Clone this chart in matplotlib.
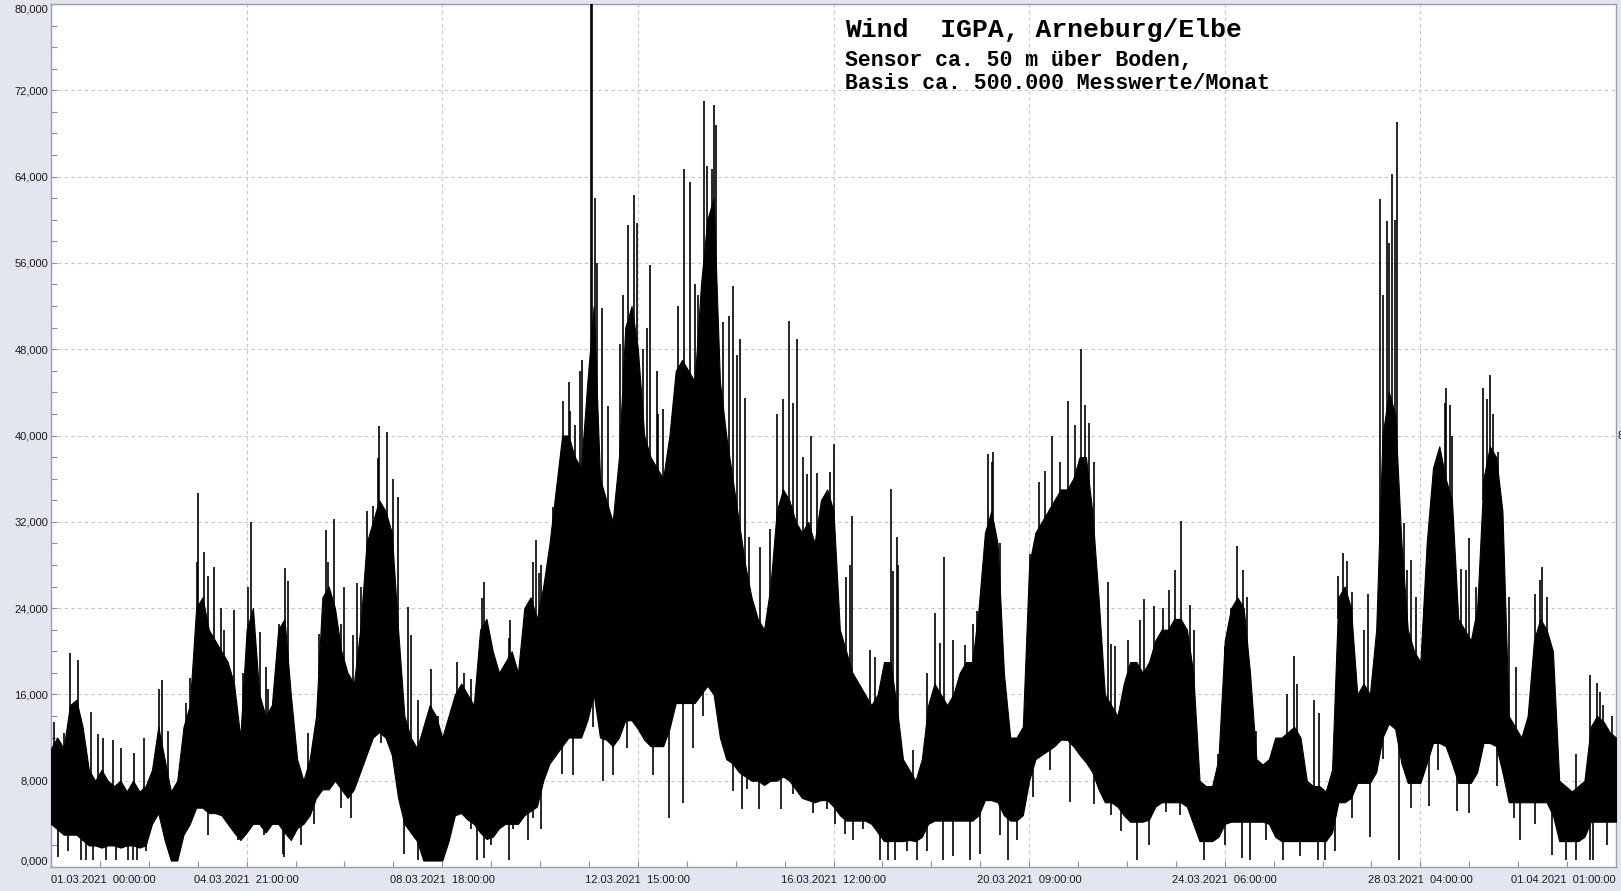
import numpy as np
import matplotlib.pyplot as plt
from matplotlib.ticker import MultipleLocator

W, H = 1621, 891
BG = "#e3e6ee"
plt.rc("font", family=["Liberation Sans", "DejaVu Sans"], size=8)

# sampling grid: every 3 hours from 01.03.2021 00:00 (hours)
hours = np.arange(0, 745, 3)

# top of the dense band (thousands)
upper = np.array([
    11, 12, 11, 15, 15.5, 13, 9, 8, 9, 8,
    7.5, 8, 7, 8, 7, 7.5, 9, 13, 10, 7,
    8, 13, 15, 24, 25, 22, 21, 20, 19, 17,
    12, 22, 24, 16, 14, 15, 22, 23, 16, 10,
    8, 10, 14, 25, 26, 24, 20, 18, 17, 22,
    30, 32, 34, 33, 31, 22, 14, 12, 11, 13,
    15, 14, 12, 14, 16, 17, 16, 15, 22, 23,
    20, 18, 19, 20, 18, 24, 25, 23, 26, 30,
    35, 40, 40, 38, 37, 45, 52, 36, 34, 32,
    38, 50, 52, 48, 40, 38, 37, 36, 40, 46,
    47, 46, 45, 54, 60, 62, 45, 40, 36, 32,
    28, 25, 23, 22, 26, 33, 35, 34, 32, 31,
    32, 30, 34, 35, 33, 22, 20, 18, 17, 16,
    15, 16, 19, 19, 15, 10, 9, 8, 10, 15,
    17, 16, 15, 16, 18, 19, 19, 24, 31, 33,
    30, 18, 12, 12, 13, 28, 31, 32, 33, 34,
    35, 35, 36, 38, 38, 33, 25, 16, 15, 14,
    17, 19, 19, 18, 19, 21, 22, 22, 23, 23,
    22, 18, 8, 7.5, 7.5, 10, 21, 24, 25, 24,
    18, 10, 9.5, 10, 12, 12, 12.5, 13, 12, 8,
    7.5, 7.5, 7, 9, 25, 26, 24, 16, 17, 16,
    22, 40, 44, 42, 30, 22, 20, 19, 30, 37,
    39, 36, 34, 23, 22, 21, 24, 36, 39, 38,
    33, 14, 13, 12, 14, 21, 23, 22, 20, 8,
    7.5, 7, 7.5, 8, 13, 14, 13.5, 12.5, 12,
])

# bottom of the dense band (thousands)
lower = np.array([
    4, 3.5, 3, 3, 3, 2.5, 2, 2, 1.8, 2,
    2, 1.8, 2, 2, 1.8, 2, 4, 5, 2.5, 0.6,
    0.6, 3, 4, 5.5, 5.5, 5, 5, 4.8, 4, 3.2,
    2.5, 3.2, 4, 4, 3.2, 4, 4, 3.2, 2.5, 3.6,
    4, 4.8, 6.4, 7.2, 7.2, 8, 7.2, 6.4, 7.2, 8.8,
    10.4, 12, 12.5, 12, 10.4, 6.4, 4, 3.2, 2.4, 0.6,
    0.6, 0.6, 0.6, 2.4, 4.8, 5, 4.4, 4, 3.2, 2.6,
    2.8, 3.6, 4, 4, 4, 4.8, 5.2, 5.6, 8, 9.6,
    10.4, 11.2, 12, 12, 12, 13.6, 16, 12, 11.8, 11.2,
    12, 13.6, 13.6, 12.8, 11.8, 11.2, 11.2, 11.2, 12.8, 15.2,
    15.2, 15.2, 15.2, 16, 16.8, 16, 12, 10, 9.6, 8.8,
    8.4, 8, 8, 7.6, 8, 8, 8.4, 8, 7.2, 6.4,
    6.2, 6, 6.2, 6.2, 5.6, 4.8, 4.3, 4.3, 4.3, 4.3,
    4, 3.2, 2.4, 2.4, 2.4, 2.4, 2.5, 2.4, 2.8, 4,
    4.3, 4.3, 4.3, 4.3, 4.3, 4.3, 4.3, 4.8, 6.2, 6.2,
    6, 4.8, 4.3, 4.3, 4.8, 8, 10, 10.4, 10.8, 11.2,
    11.8, 11.8, 11.2, 10.4, 9.7, 8.8, 7.2, 6, 6, 5.6,
    4.8, 4.2, 4.2, 4.2, 4.4, 5.6, 6, 6, 6, 6,
    5.6, 4, 2.4, 2.4, 2.4, 2.8, 4, 4.2, 4.2, 4.2,
    4.2, 4.2, 4.2, 4, 2.8, 2.4, 2.4, 2.4, 2.4, 2.4,
    2.4, 2.4, 2.4, 3.2, 6, 6, 6.4, 7.8, 7.8, 7.8,
    8.8, 12, 13.3, 12.8, 9.6, 7.8, 7.8, 7.8, 9.6, 11.5,
    11.5, 11.2, 9.6, 7.8, 7.8, 7.8, 8.8, 11.5, 11.5, 11.2,
    8.8, 6, 6, 6, 6, 6, 6, 6, 4.8, 2.4,
    2.4, 2.4, 2.4, 2.8, 4.2, 4.2, 4.2, 4.2, 4.2,
])

# single gusts above the band (hour, thousands)
spike_hours = [
    1.6, 9.2, 13, 19, 24.6, 33.3, 52.8, 66.3, 69.3, 69.7, 72.9, 77.7, 80.8,
    87.2, 93.5, 95.3, 99.5, 102.2, 111.4, 112.5, 130.8, 131.6, 134.4, 139.5,
    145.3, 150.3, 155.3, 156.1, 159.8, 164.8, 169.6, 171.2, 180.7, 193,
    196.5, 204.8, 205.7, 217.9, 218.4, 229, 230.6, 231.9, 238.5, 242.5,
    246.5, 246.4, 251.5, 252.6, 256.6, 257.4, 258.6, 259.4, 261.8, 265,
    274.5, 277.2, 278.8, 284.9, 288, 288.7, 301.1, 303.8, 306.2, 310.6,
    315.4, 316.2, 322.5, 324.4, 327.7, 332, 341.8, 347.9, 351, 354.5,
    359.3, 361.2, 372, 378, 381, 389.4, 399.5, 400.5, 402.8, 410, 422.7,
    424.7, 434.5, 440, 445.6, 448, 469.7, 475.7, 483.7, 489.5, 491.7,
    493.3, 502.3, 503.9, 517.8, 519.8, 531.4, 537.3, 541.3, 554.7, 563.7,
    566.5, 573, 590.9, 603, 614.1, 616.1, 625.9, 631.6, 634.9, 636, 637.4,
    640, 643.4, 646.7, 662.7, 663.4, 665.2, 670.4, 673.9, 681, 682.9,
    684.3, 693, 708, 708.9, 731.5, 734.8, 736.4,
    6.3, 16.6, 22.2, 29.3, 39.6, 44.4, 51.5, 55.5, 64.2, 74.5, 82.4, 91.1,
    103, 108.6, 122, 127.6, 137.9, 143.4, 147.4, 153, 162.5, 174.4, 183.9,
    199.7, 212.4, 222, 224.8, 233, 236.2,
    243.6, 249.1, 270.5, 272.1, 281.6, 283.2, 291.1, 298.3, 307.8, 311.7,
    314.1, 319.7, 326, 330, 337.1, 345, 352.9, 357.7, 364, 370.4, 379.9,
    391.8, 402, 416.3, 420.3, 429, 438.5, 447.2, 451.2, 465.4, 472.6,
    479.7, 486.8,
    495.7, 505.6, 512.1, 524.4, 528.5, 534.2, 543.2, 558, 561.2, 568.6,
    587.4, 592.3, 600.5, 612, 618.5, 624.3, 633.3, 639, 644.7, 648.8,
    652.9, 659.4, 666, 672.5, 677.5, 685.6, 688.1, 696.3, 705.3, 711, 725,
    738, 742.1,
]
spike_vals = [
    13.4, 19.8, 19.2, 14.4, 12, 11, 17.3, 17.5, 28.3, 34.7, 29.2, 27.8, 24,
    23.8, 26, 32, 21.8, 18.5, 27.7, 26.5, 31.2, 28.3, 32.3, 26,
    26.3, 33, 37.9, 40.9, 40.3, 34.3, 24.1, 21.5, 18.4, 19,
    18, 24.9, 26.4, 21.2, 22.9, 28.3, 30.3, 27.3, 33.4, 37.3,
    42.3, 45, 46, 47, 82, 82, 62, 56, 51.8, 42.7,
    59.5, 62.3, 59.7, 55.8, 46, 42, 64.7, 63.5, 54, 71,
    70.6, 68.8, 51.1, 53.9, 48.9, 30.6, 31.3, 43.4, 50.6, 48.9,
    36.4, 40, 39.2, 26.9, 32.5, 20.1, 35, 27.4, 28, 10.8, 20.8,
    28.7, 20.6, 23.7, 38.3, 38.5, 35.7, 40, 43.2, 48, 42.8,
    41.2, 26.4, 20.7, 22.9, 24.8, 25.7, 32.1, 24.3, 10.5, 29.8,
    27.5, 12.6, 19.6, 14.3, 29.1, 28.4, 25.3, 61.9, 59.9, 57.8, 64.2,
    69.1, 31.9, 28.5, 43, 44.4, 42.8, 27.6, 30.5, 44.4, 43.4,
    45.6, 25, 26.6, 27.8, 17.8, 17.1, 16.2,
    12.4, 11, 12.3, 11.8, 10.6, 12, 16.5, 12.6, 15.2, 27, 22, 18,
    16.5, 22.5, 12.4, 21.6, 22.5, 21.5, 26, 33.5, 36, 15.5, 14,
    17.4, 17.7, 17.4, 21.4, 28, 26.3,
    43.2, 41, 48.5, 53, 48, 50, 42.5, 52, 53, 65,
    64.7, 50.5, 47.5, 43.5, 29.7, 42, 43, 38, 36.5, 36.6, 28,
    19.5, 30.6, 18, 23.5, 21, 22.5, 37.5, 30, 29, 36.7,
    37.5, 41,
    37.5, 20.5, 21, 24.2, 24, 27.5, 22, 20.5, 24, 25,
    16, 17, 15.5, 27, 25.5, 22, 53, 60, 27.5, 25,
    22, 38, 40, 27.5, 26, 42, 38.5, 18.5, 25.3, 25, 10.5,
    15, 14,
]

# single lulls below the band (hour, thousands)
dip_hours = [
    3.2, 14.3, 19.8, 26, 36.5, 41, 45.2, 110.2, 111, 168, 202.6, 217.5, 227,
    242.8, 262.3, 267.4, 293.8, 300.3, 324.4, 328.4, 336.6, 347.2, 368.8,
    372.7, 377.5, 394.1, 411.6, 424.2, 436.9, 455.1, 484.5, 503.9, 516.2,
    536.7, 548.1, 570.2, 585.8, 605.8, 627.2, 641, 654.9, 668.4, 698.4,
    713.5, 720.3, 731.5, 733.1,
    7.9, 16.6, 22.2, 30.9, 38.8, 74.5, 88.8, 101.4, 118.9, 125.2, 137.9,
    142.6, 156.9, 161.7, 174.4, 199.7, 206, 209.2, 219.5, 229, 233,
    248.3, 257.8, 273.7, 286.4, 305.4, 310.1, 330.7, 340.3, 352.9, 362.4,
    381.5, 386.2, 398.1, 401.3, 406.8, 416.3, 429, 441.7, 451.2, 459.1,
    467, 475,
    495.7, 508.8, 522, 530.1, 543.2, 558, 566.1, 577.6, 594, 602.2, 610.3,
    618.5, 633.3, 646.4, 659.4, 674.2, 687.3, 695.5, 705.3, 725, 739.7,
]
dip_vals = [
    0.9, 0.2, 0.5, 0.3, 0.3, 0.3, 1.5, 1.2, 0.9, 1.2, 0.6, 0.5, 2.5,
    8.6, 8, 8.5, 4.5, 5.9, 7, 5.4, 5.4, 5.4, 5.4,
    4, 3.1, 0.3, 0.5, 0.6, 0.6, 0.6, 6, 4.8, 0.3,
    4.8, 0.3, 0.3, 0.3, 0.3, 2.8, 0.3, 5.7, 5.2, 2.5,
    1.1, 0.3, 0.3, 0.3,
    1.5, 0.3, 2, 0.3, 0.3, 3, 2.5, 3, 2, 4, 5.5,
    4.5, 11.5, 11.3, 0.5, 3.5, 0.8, 2, 3.5, 4.5, 3.5,
    8.5, 13, 11, 8.5, 11, 14, 7.2, 8, 6.8, 5,
    2.5, 3.5, 0.3, 0.3, 1.5, 1.5, 1, 1.2, 3, 2.5,
    6.5, 9,
    5.8, 3.3, 2, 5.1, 4.5, 2, 0.8, 2.5, 1, 0.3, 1.5,
    4.5, 10, 5.5, 9, 5, 7.5, 4.5, 4, 0.3, 2,
]

tick_labels = ["01.03.2021  00:00:00", "04.03.2021  21:00:00", "08.03.2021  18:00:00",
               "12.03.2021  15:00:00", "16.03.2021  12:00:00", "20.03.2021  09:00:00",
               "24.03.2021  06:00:00", "28.03.2021  04:00:00", "01.04.2021  01:00:00"]
y_labels = ["0,000", "8,000", "16,000", "24,000", "32,000", "40,000",
            "48,000", "56,000", "64,000", "72,000", "80,000"]

fig = plt.figure(figsize=(W / 100, H / 100), dpi=100, facecolor=BG)
ax = fig.add_axes([51 / W, 1 - 867 / H, (1616 - 51) / W, (867 - 4) / H])

up = upper * 1000
lo = lower * 1000
ax.fill_between(hours, lo, up, color="black", lw=0.8, edgecolor="black", zorder=3)

sh = np.array(spike_hours)
ax.vlines(sh, np.interp(sh, hours, up) - 2000, np.array(spike_vals) * 1000,
          color="black", lw=1.2, zorder=3)
dh = np.array(dip_hours)
ax.vlines(dh, np.maximum(np.array(dip_vals) * 1000, 650),
          np.interp(dh, hours, lo) + 2000, color="black", lw=1.2, zorder=3)

ax.set_xlim(0, 744)
ax.set_ylim(0, 80000)

ax.set_xticks(np.arange(0, 745, 93))
ax.set_xticklabels(tick_labels)
ax.xaxis.set_minor_locator(MultipleLocator(23.25))
ax.set_yticks(np.arange(0, 80001, 8000))
ax.set_yticklabels(y_labels)
ax.yaxis.set_minor_locator(MultipleLocator(2000))

ax.tick_params(which="both", direction="in", length=4, width=0.8, color="#8c919b",
               labelsize=8, labelcolor="#1a1a1a")
ax.tick_params(axis="y", pad=2)
ax.tick_params(axis="x", pad=6)

xt = ax.xaxis.get_major_ticks()
xt[0].label1.set_horizontalalignment("left")
xt[-1].label1.set_horizontalalignment("right")
yt = ax.yaxis.get_major_ticks()
yt[0].label1.set_verticalalignment("bottom")
yt[-1].label1.set_verticalalignment("top")

ax.grid(True, which="major", ls=(0, (3, 3)), color="#c6c6c6", lw=0.8)
ax.set_axisbelow(True)
for s in ax.spines.values():
    s.set_color("#9aa0aa")
    s.set_linewidth(1)

mono = ["Liberation Mono", "DejaVu Sans Mono"]
fig.text(845 / W, 1 - 37 / H, "Wind  IGPA, Arneburg/Elbe", family=mono,
         weight="bold", fontsize=19, va="baseline", ha="left")
fig.text(845 / W, 1 - 66 / H, "Sensor ca. 50 m über Boden,", family=mono,
         weight="bold", fontsize=15.5, va="baseline", ha="left")
fig.text(845 / W, 1 - 89 / H, "Basis ca. 500.000 Messwerte/Monat", family=mono,
         weight="bold", fontsize=15.5, va="baseline", ha="left")

# cut-off label of a second axis at the right border
fig.text(1617.5 / W, 1 - 436 / H, "80,000", fontsize=8, va="center", ha="left",
         color="#1a1a1a")

fig.savefig("out.png", dpi=100, facecolor=BG)
